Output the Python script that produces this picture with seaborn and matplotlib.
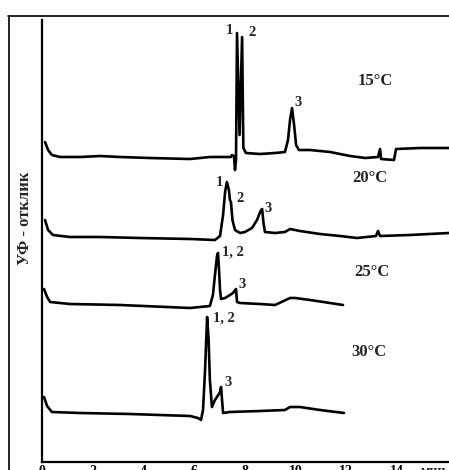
import matplotlib
matplotlib.use("Agg")
import matplotlib.pyplot as plt
from matplotlib.lines import Line2D
import seaborn as sns
import pandas as pd

# ---- data (time, min ; signal above own baseline, arb. units)
temps = ["15°C", "20°C", "25°C", "30°C"]

t15 = [0.12, 0.24, 0.39, 0.71, 1.50, 2.29, 3.08, 4.26, 5.84, 6.62, 7.45, 7.49, 7.57, 7.61, 7.65,
       7.69, 7.79, 7.89, 7.94, 8.04, 8.60, 9.19, 9.58, 9.70, 9.78, 9.86, 9.94, 10.02, 10.13, 10.57,
       11.36, 12.15, 12.74, 13.25, 13.33, 13.37, 13.88, 13.96, 14.91, 16.05]
s15 = [15, 7, 2, 0, 0, 1, 0, -1, -2, 0, 0, 2, 1, -13, -3,
       124, 22, 120, 9, 4, 3, 4, 5, 17, 37, 49, 32, 12, 7, 7,
       5, 1, -1, 0, 8, -2, -3, 8, 9, 9]

t20 = [0.12, 0.24, 0.43, 1.10, 2.29, 3.86, 5.84, 6.82, 7.02, 7.14, 7.22, 7.29, 7.37, 7.41, 7.45,
       7.51, 7.61, 7.81, 8.00, 8.28, 8.48, 8.60, 8.68, 8.73, 8.79, 9.19, 9.58, 9.78, 10.17, 10.96,
       11.75, 12.42, 13.17, 13.25, 13.33, 14.51, 16.05]
s20 = [17, 7, 2, 0, 0, -1, -2, -3, 1, 22, 45, 55, 47, 37, 35,
       17, 7, 4, 5, 9, 17, 25, 28, 15, 5, 4, 5, 8, 6, 3,
       1, -1, 1, 6, 1, 2, 4]

t25 = [0.08, 0.20, 0.32, 1.10, 3.08, 5.84, 6.62, 6.74, 6.82, 6.90, 6.94, 6.98, 7.02, 7.06, 7.22,
       7.41, 7.53, 7.65, 7.69, 7.81, 8.60, 9.19, 9.78, 9.98, 10.57, 11.36, 11.87]
s25 = [15, 7, 2, 0, -1, -4, -2, 9, 29, 48, 51, 34, 14, 5, 6,
       9, 11, 15, 2, 1, 0, -1, 6, 6, 4, 1, -1]

t30 = [0.08, 0.20, 0.39, 1.50, 3.47, 5.84, 6.15, 6.27, 6.35, 6.43, 6.49, 6.51, 6.57, 6.62, 6.70,
       6.82, 6.90, 7.02, 7.06, 7.10, 7.14, 7.41, 8.60, 9.58, 9.78, 10.17, 10.96, 11.91]
s30 = [16, 7, 1, 0, -1, -3, -5, -7, 3, 43, 83, 96, 73, 33, 6,
       13, 16, 21, 26, 13, 0, 1, 2, 3, 6, 6, 3, 0]

x_ticks = [0, 2, 4, 6, 8, 10, 12, 14]
x_unit = "мин"
y_label = "УФ - отклик"

# peak annotations: (trace index, text, index of point in trace arrays)
peak_labels = [
    (0, "1", 15), (0, "2", 17), (0, "3", 25),
    (1, "1", 11), (1, "2", 14), (1, "3", 22),
    (2, "1, 2", 10), (2, "3", 17),
    (3, "1, 2", 11), (3, "3", 18),
]

# ---- layout (positions / styles)
offsets = [305, 225, 158, 49]
label_shift = [(-8, 2, "center"), (10, 4, "center"), (6, 5, "center"),
               (-7, -1, "center"), (9, 4, "center"), (6, 1, "center"),
               (4, 1, "left"), (6, 4, "center"),
               (6, -1, "left"), (7, 4, "center")]
temp_pos = [(13.13, 381), (12.93, 284), (13.01, 190), (12.89, 110)]

T = [t15, t20, t25, t30]
S = [s15, s20, s25, s30]
frames = []
for name, tt, ss, off in zip(temps, T, S, offsets):
    frames.append(pd.DataFrame({"t": tt, "y": [v + off for v in ss], "trace": name}))
df = pd.concat(frames, ignore_index=True)

sns.set_style("white")
plt.rcParams["font.family"] = ["Liberation Serif", "DejaVu Serif"]

W, H = 449, 470
fig = plt.figure(figsize=(W / 100, H / 100), dpi=100)
ax = fig.add_axes([42 / W, (H - 462) / H, (W - 42) / W, (462 - 20) / H])

sns.lineplot(data=df, x="t", y="y", hue="trace", units="trace", estimator=None,
             palette=["black"] * 4, legend=False, linewidth=1.9, ax=ax, sort=True)

ax.set_xlim(0, (W - 42) / 25.36)
ax.set_ylim(0, 442)
ax.set_xlabel("")
ax.set_ylabel("")
ax.set_yticks([])
ax.set_xticks(x_ticks)
ax.set_xticklabels([str(v) for v in x_ticks], fontsize=10, fontweight="bold")
ax.tick_params(axis="x", direction="in", length=3, width=1.2, pad=2, colors="black")
for side in ["top", "right"]:
    ax.spines[side].set_visible(False)
for side in ["left", "bottom"]:
    ax.spines[side].set_color("black")
    ax.spines[side].set_linewidth(1.6)

ax.text(15.45, -0.007, x_unit, transform=ax.get_xaxis_transform(), ha="center", va="top",
        fontsize=10, fontweight="bold")

for (ti, txt, pi), (dx, dy, ha) in zip(peak_labels, label_shift):
    px = T[ti][pi]
    py = S[ti][pi] + offsets[ti]
    ax.annotate(txt, xy=(px, py), xytext=(dx, dy), textcoords="offset pixels",
                ha=ha, va="center", fontsize=10.5, fontweight="bold")

for name, (tx, ty) in zip(temps, temp_pos):
    ax.text(tx, ty, name, ha="center", va="center", fontsize=12, fontweight="bold")

fig.text(25 / W, (H - 218) / H, y_label, rotation=90, ha="center", va="center",
         fontsize=12, fontweight="bold")

# outer frame of the scanned figure
fig.add_artist(Line2D([8 / W, 1], [(H - 16) / H] * 2, color="black", lw=1.2,
                      transform=fig.transFigure))
fig.add_artist(Line2D([9 / W] * 2, [0, (H - 16) / H], color="black", lw=1.2,
                      transform=fig.transFigure))

fig.savefig("out.png", dpi=100, facecolor="white")
